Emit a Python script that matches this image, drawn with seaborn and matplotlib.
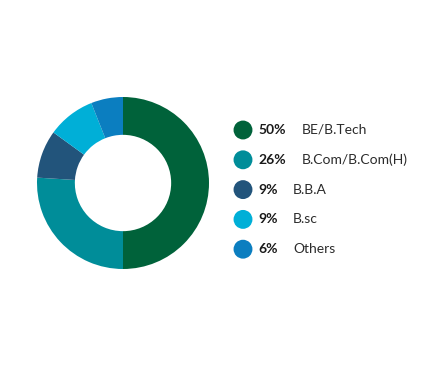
import seaborn as sns
import matplotlib.pyplot as plt

# data
courses = ['BE/B.Tech', 'B.Com/B.Com(H)', 'B.B.A', 'B.sc', 'Others']
shares = [50, 26, 9, 9, 6]
colors = ['#00623A', '#008D99', '#22547B', '#00AFD7', '#0B7EC0']

sns.set_style('white')
plt.rcParams['font.family'] = ['Lato', 'DejaVu Sans']

fig = plt.figure(figsize=(4.21, 3.66), dpi=100)

# donut
ax = fig.add_axes([37 / 421, 97 / 366, 172 / 421, 172 / 366])
ax.pie(shares, colors=colors, startangle=90, counterclock=False,
       radius=1, wedgeprops=dict(width=0.44, linewidth=0))
ax.set_xlim(-1, 1)
ax.set_ylim(-1, 1)
ax.set_aspect('equal')
ax.axis('off')

# legend, drawn in pixel-ish coordinates
lax = fig.add_axes([0, 0, 1, 1])
lax.set_xlim(0, 421)
lax.set_ylim(366, 0)
lax.axis('off')
rows = [130 + i * 29.8 for i in range(len(courses))]
lax.scatter([243] * len(courses), rows, s=185, c=colors, linewidths=0)
label_x = [302, 302, 293, 293, 293]
for y, pct, name, lx in zip(rows, shares, courses, label_x):
    lax.text(258, y, f'{pct}%', fontsize=10, fontweight='bold',
             va='center', ha='left', color='#1a1a1a')
    lax.text(lx, y, name, fontsize=10, va='center', ha='left', color='#2b2b2b')

fig.savefig('out.png', dpi=100)
